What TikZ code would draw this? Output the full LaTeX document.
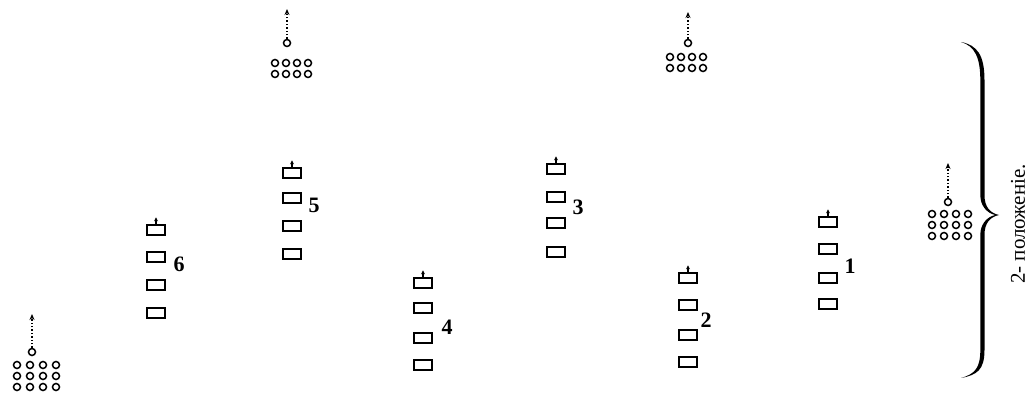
\documentclass[tikz,border=0pt]{standalone}
\usepackage{fontspec}
\setmainfont{Liberation Serif}
\usetikzlibrary{arrows.meta}
\tikzset{
  man/.style={circle, draw, line width=1.5pt, minimum size=7pt, inner sep=0pt},
  gun/.style={rectangle, draw, line width=1.8pt, minimum width=18pt, minimum height=9.5pt, inner sep=0pt},
  march/.style={dotted, line width=1.4pt, -{Stealth[length=6pt,width=5pt]}},
  dir/.style={line width=1.4pt, -{Stealth[length=4pt,width=4pt]}},
  num/.style={font=\fontsize{22}{22}\selectfont\bfseries, inner sep=0pt},
  caption/.style={font=\fontsize{21}{21}\selectfont, rotate=90, inner sep=0pt},
}
\begin{document}
\begin{tikzpicture}[x=1pt,y=-1pt]
\useasboundingbox (0,0) rectangle (1029,395);
% infantry groups: name / lead x / lead y / tip y / col xs / row ys
\foreach \g/\lx/\ly/\ty/\cols/\rows in {
  a/32/352/314/{17,30,43,56}/{365,376,387},
  b/287/43/9/{275,286,297,308}/{63,74},
  c/688/43/12/{670,681,692,703}/{57,68},
  d/948/202/163/{932,944,956,968}/{214,225,236}} {
  \node[man] (\g0) at (\lx,\ly) {};
  \coordinate (\g T) at (\lx,\ty);
  \draw[march] (\g0) -- (\g T);
  \foreach \cx [count=\i] in \cols {
    \foreach \ry [count=\j] in \rows {
      \node[man] (\g-\i-\j) at (\cx,\ry) {};
    }
  }
}
% columns of guns
\foreach \n/\x/\ya/\yb/\yc/\yd/\nx/\ny in {
  6/156/230/257/285/313/179/264,
  5/292/173/198/226/254/314/205,
  4/423/283/308/338/365/447/327,
  3/556/169/197/223/252/578/207,
  2/688/278/305/335/362/706/320,
  1/828/222/249/278/304/850/266} {
  \node[gun] (k\n-1) at (\x,\ya) {};
  \node[gun] (k\n-2) at (\x,\yb) {};
  \node[gun] (k\n-3) at (\x,\yc) {};
  \node[gun] (k\n-4) at (\x,\yd) {};
  \draw[dir] (k\n-1.north) -- ++(0,-7);
  \node[num] (lab\n) at (\nx,\ny) {\n};
}
% brace
\fill (961,42) .. controls (977,45) and (984.5,55) .. (984.5,80) -- (984.5,195)
  .. controls (984.5,207) and (990,213) .. (999,215)
  .. controls (990,217) and (984.5,223) .. (984.5,235) -- (984.5,350)
  .. controls (984.5,370) and (977,375) .. (961,378)
  .. controls (975,374) and (980.3,368) .. (980.3,350) -- (980.3,235)
  .. controls (980.3,224) and (987,217) .. (995,215)
  .. controls (987,213) and (980.3,206) .. (980.3,195) -- (980.3,80)
  .. controls (980.3,58) and (975,46) .. (961,42) -- cycle;
\node[caption] (cap) at (1018,224) {2- положеніе.};
\end{tikzpicture}
\end{document}
